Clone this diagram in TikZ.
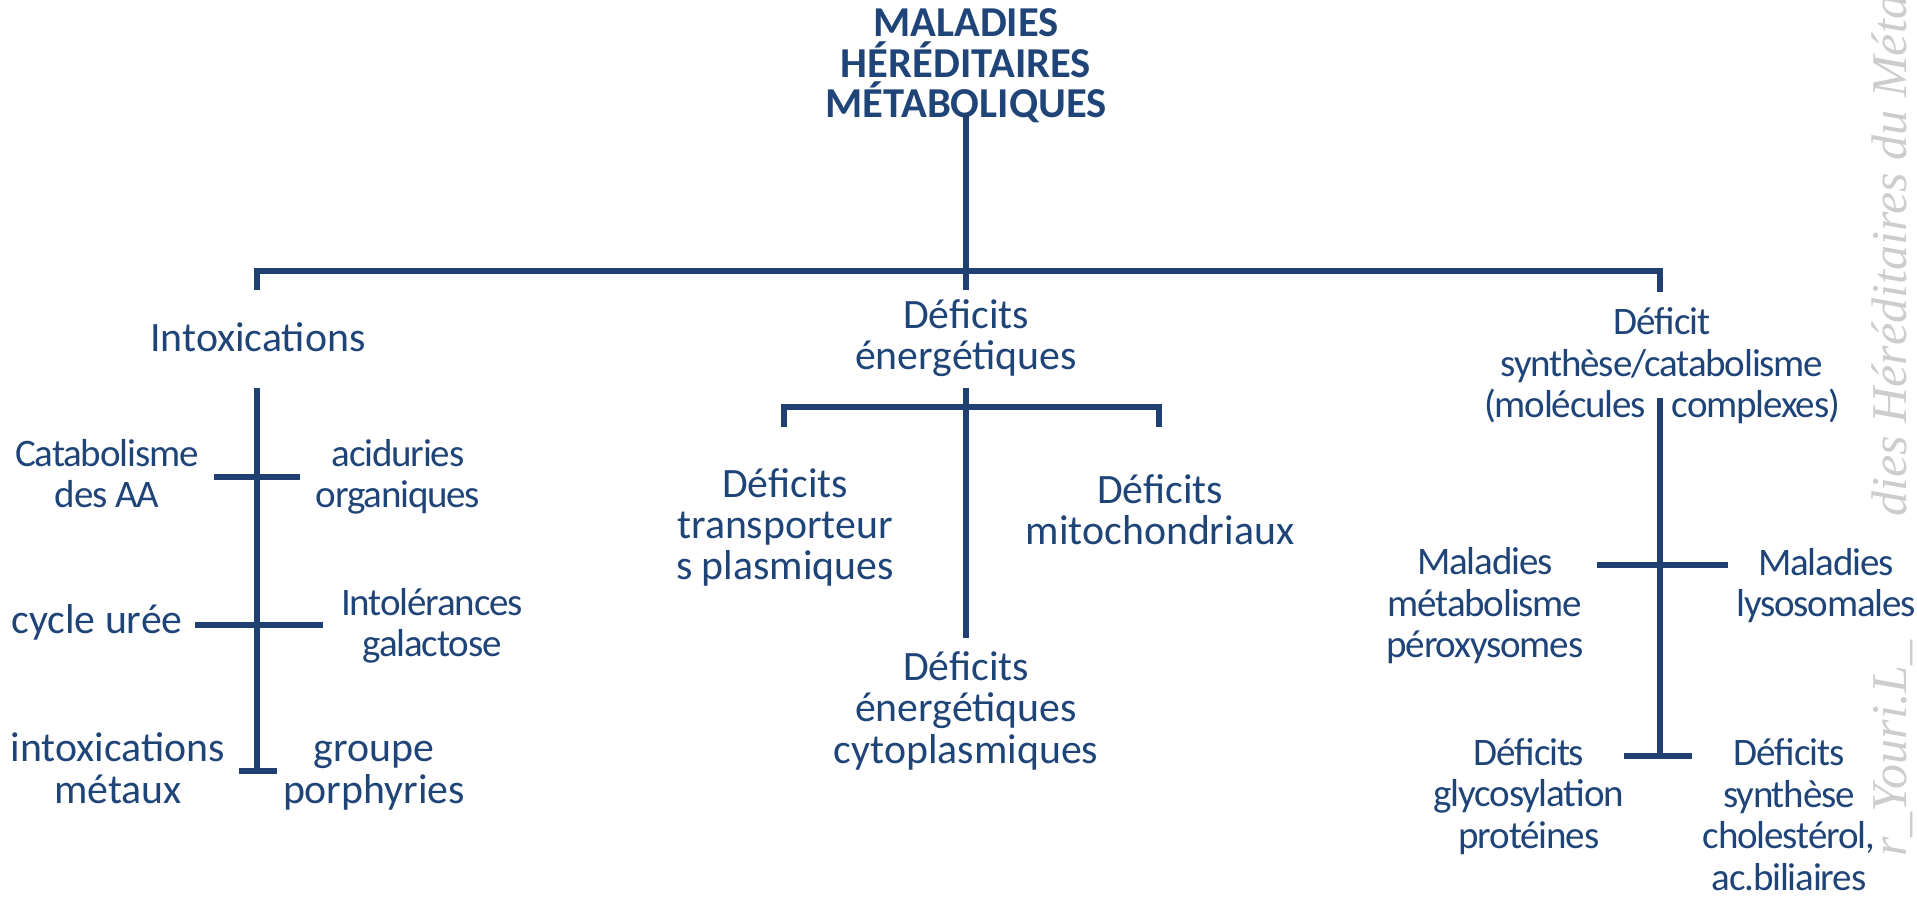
\documentclass[tikz,border=0pt]{standalone}
\usepackage{fontspec}
\setmainfont{Carlito}
\newfontfamily\condfont[LetterSpace=-3.0]{Carlito}
\newfontfamily\wmfont{Liberation Serif}
\usepackage{tikz}
\usetikzlibrary{calc}
\definecolor{mhmNavy}{RGB}{31,64,112}
\definecolor{mhmText}{RGB}{31,68,120}
\definecolor{mhmMark}{RGB}{205,205,205}

\begin{document}
\begin{tikzpicture}[x=0.5pt, y=-0.5pt,
  lbl/.style={text=mhmText, align=center, inner sep=0pt, anchor=base, font=\fontsize{20.9}{20.6}\selectfont},
  clbl/.style={lbl, font=\condfont\fontsize{19.5}{20.75}\selectfont},
  tree/.style={draw=mhmNavy, line width=2.6pt},
  wmark/.style={text=mhmMark, inner sep=0pt, rotate=90, font=\wmfont\itshape\fontsize{25}{25}\selectfont}]
  \useasboundingbox (0,0) rectangle (1917,897);
  \clip (0,0) rectangle (1917,897);

  \node[wmark, anchor=base west] (wmTitle) at (1906,517) {dies Héréditaires du Métabolisme};
  \node[wmark, anchor=base east] (wmAuthor) at (1906,640) {r\_Youri.L\_};

  \node[lbl, font=\bfseries\fontsize{21.3}{20.3}\selectfont] (mhm) at (966,118) {MALADIES\\HÉRÉDITAIRES\\MÉTABOLIQUES};

  \node[lbl] (intox) at (258,352) {Intoxications};
  \node[lbl] (energ) at (966,370) {Déficits\\énergétiques};
  \node[clbl] (synth) at (1662,418) {Déficit\\synthèse/catabolisme\\(molécules\hspace{13pt}complexes)};

  \node[clbl] (cata) at (107,508) {Catabolisme\\des AA};
  \node[clbl] (acid) at (398,508) {aciduries\\organiques};
  \node[lbl] (uree) at (97,633) {cycle urée};
  \node[clbl] (galac) at (432,657) {Intolérances\\galactose};
  \node[lbl] (metaux) at (118,803) {intoxications\\métaux};
  \node[lbl] (porph) at (374,803) {groupe\\porphyries};

  \node[lbl] (transp) at (785,580) {Déficits\\transporteur\\s plasmiques};
  \node[lbl] (mito) at (1160,545) {Déficits\\mitochondriaux};
  \node[lbl] (cyto) at (966,763) {Déficits\\énergétiques\\cytoplasmiques};

  \node[clbl] (perox) at (1485,658) {Maladies\\métabolisme\\péroxysomes};
  \node[clbl] (lyso) at (1826,617) {Maladies\\lysosomales};
  \node[clbl] (glyco) at (1529,848) {Déficits\\glycosylation\\protéines};
  \node[clbl] (chol) at (1789,890) {Déficits\\synthèse\\cholestérol,\\ac.biliaires};

  \coordinate (hubTop) at (966,113);
  \coordinate (hubFoot) at (966,290);
  \coordinate (barL) at (257,271);
  \coordinate (barR) at (1660,271);
  \draw[tree] (hubTop) -- (hubFoot);
  \draw[tree] ($(barL)+(0,19)$) -- (barL) -- (barR) -- ($(barR)+(0,21)$);

  \coordinate (intoxTop) at (257,388);
  \coordinate (intoxEnd) at (257,773);
  \draw[tree] (intoxTop) -- (intoxEnd);
  \foreach \j/\l/\r in {477/43/43, 625/62/66, 771/18/20}
    \draw[tree] ($(intoxTop|-0,\j)+(-\l,0)$) -- ($(intoxTop|-0,\j)+(\r,0)$);

  \coordinate (energTop) at (966,388);
  \coordinate (energEnd) at (966,638);
  \coordinate (subL) at (784,407);
  \coordinate (subR) at (1159,407);
  \draw[tree] (energTop) -- (energEnd);
  \draw[tree] ($(subL)+(0,20)$) -- (subL) -- (subR) -- ($(subR)+(0,20)$);

  \coordinate (synthTop) at (1660,398);
  \coordinate (synthEnd) at (1660,758);
  \draw[tree] (synthTop) -- (synthEnd);
  \foreach \j/\l/\r in {565/63/68, 756/36/32}
    \draw[tree] ($(synthTop|-0,\j)+(-\l,0)$) -- ($(synthTop|-0,\j)+(\r,0)$);
\end{tikzpicture}
\end{document}
